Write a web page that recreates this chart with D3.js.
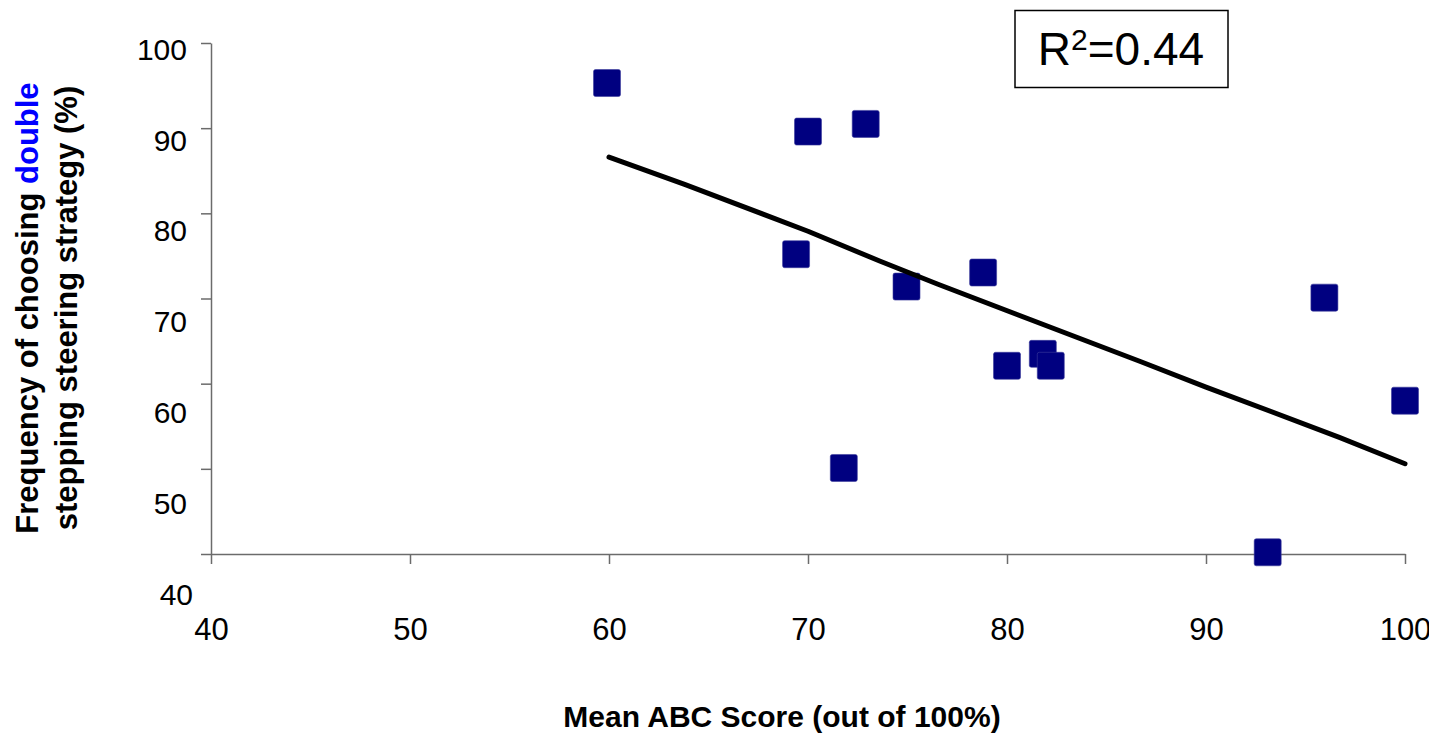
<!DOCTYPE html>
<html>
<head>
<meta charset="utf-8">
<script src="https://cdn.jsdelivr.net/npm/d3@7"></script>
<style>
  body { margin: 0; background: #fff; }
  text { font-family: "Liberation Sans", Arial, sans-serif; }
  .axis path, .axis line { stroke: #6b6b6b; stroke-width: 1.5; }
</style>
</head>
<body>
<script>
// Mean ABC score for each subject
var abcScores = [59.9, 70.0, 72.9, 69.4, 74.95, 78.8, 80.0, 81.8, 82.2, 71.8, 95.95, 100.0, 93.1];

// Frequency of choosing double stepping (%)
var doubleFreq = [95.3, 89.6, 90.5, 75.2, 71.4, 73.05, 62.1, 63.5, 62.1, 50.1, 70.1, 58.0, 40.2];

// Trend line as drawn in the original (x, y)
var trendX = [60, 63.8, 70, 73.6, 76.5, 86.7, 90, 96.7, 100];
var trendY = [86.6, 83.4, 77.9, 74.4, 71.7, 62.6, 59.6, 53.7, 50.6];

// Tick values
var xTicks = [40, 50, 60, 70, 80, 90, 100];
var yTicks = [100, 90, 80, 70, 60, 50, 40];

var rSquared = "0.44";

// Define SVG area dimensions
var svgWidth = 1429;
var svgHeight = 733;

var margin = {
  top: 43,
  right: 24,
  bottom: 179,
  left: 211
};

var chartWidth = svgWidth - margin.left - margin.right;
var chartHeight = svgHeight - margin.top - margin.bottom;

var svg = d3.select("body")
  .append("svg")
  .attr("width", svgWidth)
  .attr("height", svgHeight);

var chartGroup = svg.append("g")
  .attr("transform", `translate(${margin.left}, ${margin.top})`);

// Scales
var xLinearScale = d3.scaleLinear()
  .domain([40, 100])
  .range([0, chartWidth]);

var yLinearScale = d3.scaleLinear()
  .domain([40, 100])
  .range([chartHeight, 0]);

// the y labels in the original drift away from their ticks, so they get their own scale
var yLabelScale = d3.scaleLinear()
  .domain([100, 40])
  .range([49 - margin.top, 594 - margin.top]);

// Axes
var leftAxis = d3.axisLeft(yLinearScale)
  .tickValues(yTicks)
  .tickSize(10)
  .tickSizeOuter(0)
  .tickFormat("");

var bottomAxis = d3.axisBottom(xLinearScale)
  .tickValues(xTicks)
  .tickSize(10)
  .tickSizeOuter(0)
  .tickFormat(d3.format("d"));

chartGroup.append("g")
  .classed("axis", true)
  .call(leftAxis);

chartGroup.append("g")
  .classed("axis", true)
  .attr("transform", "translate(0, " + chartHeight + ")")
  .call(bottomAxis)
  .call(g => g.selectAll(".tick text")
    .attr("y", 0)
    .attr("dy", 0)
    .attr("transform", "translate(0, 86)")
    .attr("font-size", 31)
    .attr("fill", "#000"));

// y tick labels
chartGroup.append("g")
  .selectAll("text")
  .data(yTicks)
  .enter()
  .append("text")
  .attr("x", d => d === 40 ? -18 : -24)
  .attr("y", d => yLabelScale(d))
  .attr("dy", "0.36em")
  .attr("text-anchor", "end")
  .attr("font-size", 30)
  .attr("fill", "#000")
  .text(d => d);

// Data points
var size = 27;
chartGroup.append("g")
  .selectAll("rect")
  .data(abcScores)
  .enter()
  .append("rect")
  .attr("x", (d, i) => xLinearScale(d) - size / 2)
  .attr("y", (d, i) => yLinearScale(doubleFreq[i]) - size / 2)
  .attr("width", size)
  .attr("height", size)
  .attr("rx", 2)
  .attr("fill", "#000080")
  .attr("stroke", "#3c3c9c")
  .attr("stroke-width", 0.6);

// Trend line
var drawLine = d3.line()
  .x((d, i) => xLinearScale(d))
  .y((d, i) => yLinearScale(trendY[i]));

chartGroup.append("path")
  .attr("d", drawLine(trendX))
  .attr("fill", "none")
  .attr("stroke", "#000")
  .attr("stroke-width", 5)
  .attr("stroke-linecap", "round")
  .attr("stroke-linejoin", "round");

// R squared box
svg.append("rect")
  .attr("x", 1015)
  .attr("y", 10.5)
  .attr("width", 213)
  .attr("height", 77)
  .attr("fill", "#fff")
  .attr("stroke", "#000")
  .attr("stroke-width", 1.5);

var rText = svg.append("text")
  .attr("x", 1121)
  .attr("y", 65)
  .attr("text-anchor", "middle")
  .attr("font-size", 46)
  .attr("fill", "#000");
rText.append("tspan").text("R");
rText.append("tspan").attr("font-size", 30).attr("dy", -15).text("2");
rText.append("tspan").attr("dy", 15).text("=" + rSquared);

// Axis titles
svg.append("text")
  .attr("x", 782)
  .attr("y", 727)
  .attr("text-anchor", "middle")
  .attr("font-size", 30)
  .attr("font-weight", "bold")
  .attr("fill", "#000")
  .text("Mean ABC Score (out of 100%)");

var yTitle = svg.append("text")
  .attr("transform", "translate(38, 308) rotate(-90)")
  .attr("text-anchor", "middle")
  .attr("font-size", 31)
  .attr("font-weight", "bold")
  .attr("fill", "#000");
yTitle.append("tspan").attr("x", 0).attr("y", 0).text("Frequency of choosing ");
yTitle.append("tspan").attr("fill", "#0000ff").text("double");
yTitle.append("tspan").attr("x", 0).attr("y", 39).text("stepping steering strategy (%)");
</script>
</body>
</html>
